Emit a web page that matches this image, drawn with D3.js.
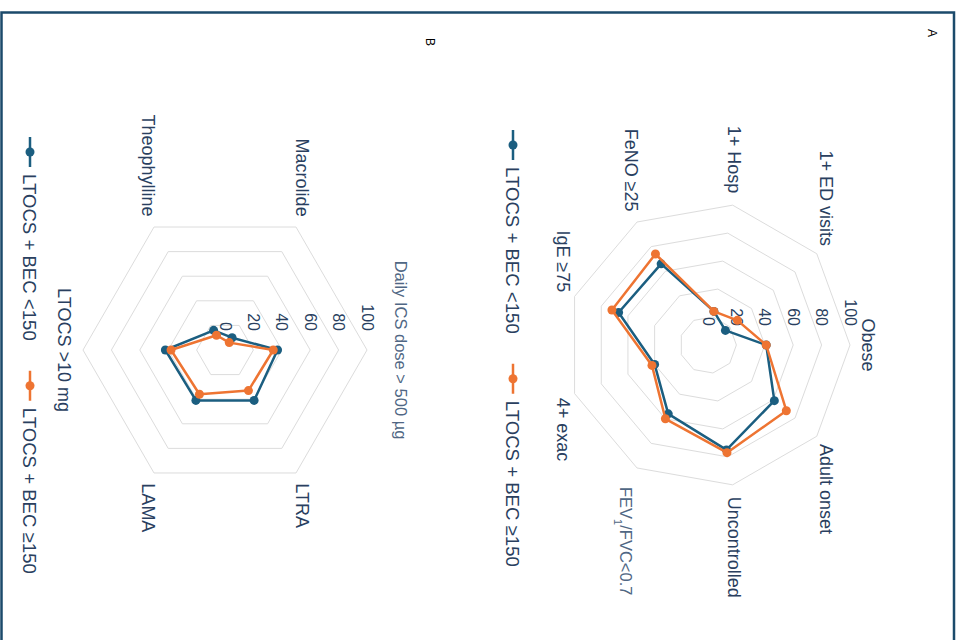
<!DOCTYPE html>
<html>
<head>
<meta charset="utf-8">
<script src="https://cdn.jsdelivr.net/npm/d3@7"></script>
<style>
  body { margin: 0; background: #fff; }
  svg text { font-family: "Liberation Sans", Arial, sans-serif; }
</style>
</head>
<body>
<div id="plot"></div>
<script>
// panel A categories and values (%)
const catsA = ["Obese", "Adult onset", "Uncontrolled", "FEV1/FVC<0.7", "4+ exac", "IgE ≥75", "FeNO ≥25", "1+ Hosp", "1+ ED visits"];
const lowA = [41, 61, 75, 56, 40, 67, 66, 24, 16];
const highA = [41, 72, 77, 60, 42, 72, 74, 24, 27];

// panel B categories and values (%)
const catsB = ["Daily ICS dose > 500 µg", "LTRA", "LAMA", "LTOCS >10 mg", "Theophylline", "Macrolide"];
const lowB = [37, 41, 41, 42, 16, 10];
const highB = [34, 33, 36, 38, 12, 6];

const radialTicks = [0, 20, 40, 60, 80, 100];
const seriesNames = ["LTOCS + BEC <150", "LTOCS + BEC ≥150"];
const colors = ["#1b5e80", "#ee7432"];

const W = 961, H = 640;
const R = 142;
const textColor = "#2a3f5f";

const svg = d3.select("#plot").append("svg")
  .attr("width", W)
  .attr("height", H);

// outer frame
svg.append("rect")
  .attr("x", 1.5).attr("y", 12.5)
  .attr("width", 952.5).attr("height", 700)
  .attr("fill", "none")
  .attr("stroke", "#1b4a6b")
  .attr("stroke-width", 2.5);

// whole page is turned a quarter clockwise
const page = svg.append("g")
  .attr("transform", `translate(${W},0) rotate(90)`);

page.append("text").attr("x", 33).attr("y", 29)
  .attr("text-anchor", "middle").attr("dominant-baseline", "central")
  .attr("font-size", 12).attr("fill", "#000").text("A");
page.append("text").attr("x", 42).attr("y", 531)
  .attr("text-anchor", "middle").attr("dominant-baseline", "central")
  .attr("font-size", 12).attr("fill", "#000").text("B");

const r = d3.scaleLinear().domain([0, 100]).range([0, R]);

// labels drawn as html-like text in the original (lighter, pushed out a bit)
const softLabels = new Set(["FEV1/FVC<0.7", "Daily ICS dose > 500 µg"]);

function radar(cx, cy, cats, values, legendY, legendX0) {
  const g = page.append("g").attr("transform", `translate(${cx},${cy})`);
  const n = cats.length;
  const angle = d3.scaleLinear().domain([0, n]).range([0, 2 * Math.PI]);

  // grid polygons
  const ring = d3.lineRadial()
    .angle((d, i) => angle(i))
    .radius(d => r(d))
    .curve(d3.curveLinearClosed);
  g.selectAll(".grid")
    .data(radialTicks.filter(t => t > 0))
    .enter().append("path")
    .attr("d", t => ring(cats.map(() => t)))
    .attr("fill", "none")
    .attr("stroke", "#dcdcdc")
    .attr("stroke-width", 1);

  // radial tick labels
  g.selectAll(".rtick")
    .data(radialTicks)
    .enter().append("text")
    .attr("x", -19)
    .attr("y", t => -r(t))
    .attr("text-anchor", "end")
    .attr("dominant-baseline", "central")
    .attr("font-size", 16)
    .attr("fill", textColor)
    .text(t => t);

  // category labels
  cats.forEach((c, i) => {
    const a = angle(i);
    const s = Math.sin(a), co = Math.cos(a);
    const soft = softLabels.has(c);
    const pad = soft ? (Math.abs(s) < 0.1 ? 28 : 22) : 12;
    const x = (R + pad) * s;
    const y = -(R + pad) * co;
    const anchor = s > 0.1 ? "start" : s < -0.1 ? "end" : "middle";
    let dy = "0.35em";
    if (Math.abs(s) < 0.1) dy = co > 0 ? "0em" : "0.75em";
    const t = g.append("text")
      .attr("x", x).attr("y", y).attr("dy", dy)
      .attr("text-anchor", anchor)
      .attr("font-size", soft ? 16.5 : 18)
      .attr("fill", soft ? "#506784" : textColor);
    if (c === "FEV1/FVC<0.7") {
      t.append("tspan").text("FEV");
      t.append("tspan").attr("font-size", 11).attr("baseline-shift", "sub").text("1");
      t.append("tspan").text("/FVC<0.7");
    } else {
      t.text(c);
    }
  });

  // series
  const line = d3.lineRadial()
    .angle((d, i) => angle(i))
    .radius(d => r(d))
    .curve(d3.curveLinearClosed);

  values.forEach((vals, k) => {
    g.append("path")
      .attr("d", line(vals))
      .attr("fill", "none")
      .attr("stroke", colors[k])
      .attr("stroke-width", 2.5)
      .attr("stroke-linejoin", "round");
    g.selectAll(".pt" + k)
      .data(vals)
      .enter().append("circle")
      .attr("cx", (d, i) => r(d) * Math.sin(angle(i)))
      .attr("cy", (d, i) => -r(d) * Math.cos(angle(i)))
      .attr("r", 4.5)
      .attr("fill", colors[k]);
  });

  // legend
  const lg = page.append("g").attr("transform", `translate(0,${legendY})`);
  let xPos = legendX0;
  seriesNames.forEach((name, k) => {
    lg.append("line")
      .attr("x1", xPos).attr("x2", xPos + 30)
      .attr("y1", 0).attr("y2", 0)
      .attr("stroke", colors[k]).attr("stroke-width", 2.5);
    lg.append("circle")
      .attr("cx", xPos + 15).attr("cy", 0).attr("r", 4.5)
      .attr("fill", colors[k]);
    const t = lg.append("text")
      .attr("x", xPos + 37).attr("y", 0)
      .attr("dy", "0.35em")
      .attr("font-size", 18.6)
      .attr("fill", textColor)
      .text(name);
    xPos += 37 + t.node().getComputedTextLength() + 30;
  });
}

radar(345, 253, catsA, [lowA, highA], 448, 130);
radar(350, 736, catsB, [lowB, highB], 931, 137);
</script>
</body>
</html>
